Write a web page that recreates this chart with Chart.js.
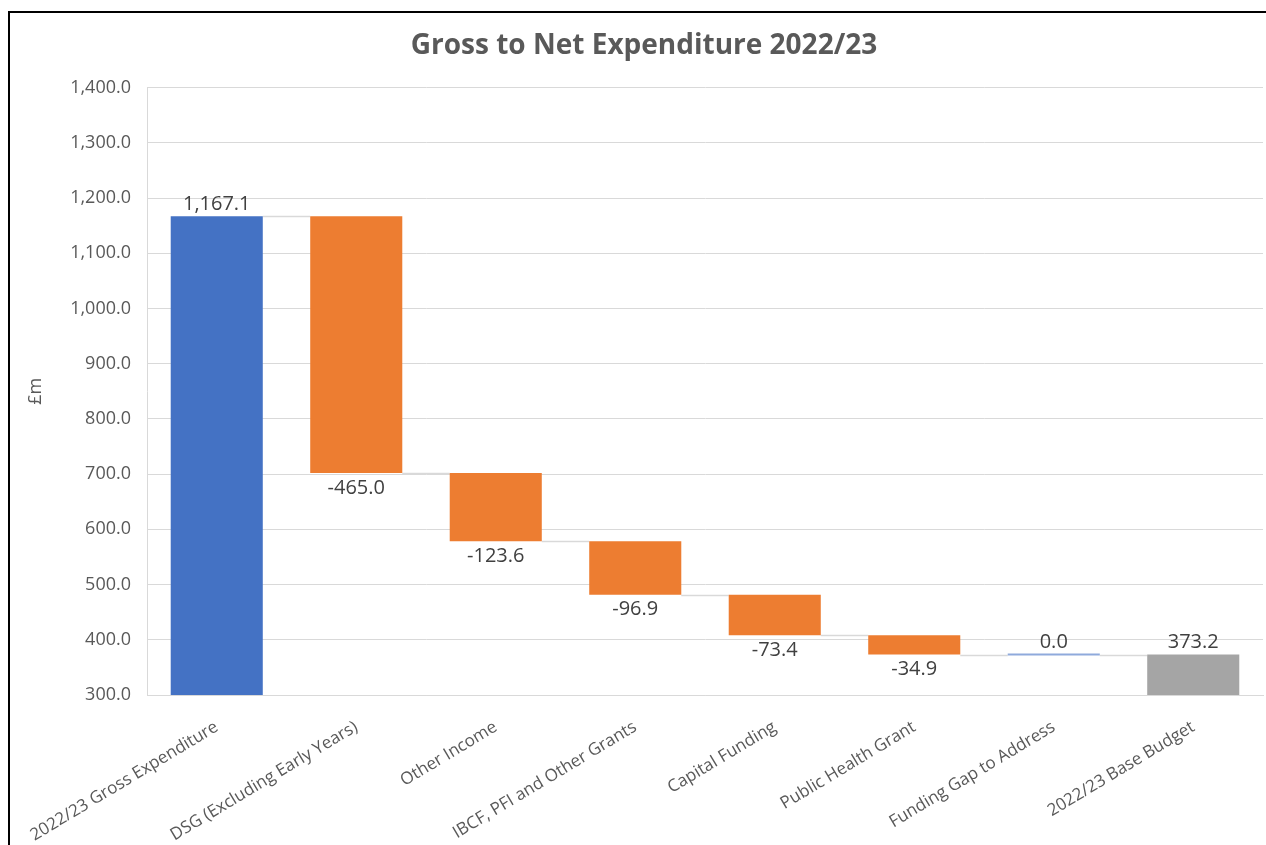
<!DOCTYPE html>
<html>
<head>
<meta charset="utf-8">
<title>Gross to Net Expenditure 2022/23</title>
<script src="https://cdn.jsdelivr.net/npm/chart.js@4.4.0/dist/chart.umd.min.js"></script>
<style>
  html, body { margin: 0; padding: 0; background: #fff; overflow: hidden; }
  #frame {
    position: absolute;
    left: 8px;
    top: 11px;
    width: 1266px;
    height: 900px;
    border-left: 2px solid #000;
    border-top: 2px solid #000;
    background: #fff;
  }
</style>
</head>
<body>
<div id="frame"><canvas id="chartGross"></canvas></div>
<script>
// Catégories et mouvements (en £m)
const categories = [
  "2022/23 Gross Expenditure",
  "DSG (Excluding Early Years)",
  "Other Income",
  "IBCF, PFI and Other Grants",
  "Capital Funding",
  "Public Health Grant",
  "Funding Gap to Address",
  "2022/23 Base Budget",
];
const changes = [1167.1, -465.0, -123.6, -96.9, -73.4, -34.9, 0.0, 373.2];
const isTotal = [true, false, false, false, false, false, false, true];
const yTicks = { min: 300, max: 1400, step: 100 };

// On calcule les barres flottantes (début / fin) de la cascade
let running = 0;
const ranges = [];
const levels = [];
changes.forEach((v, i) => {
  if (isTotal[i]) {
    ranges.push([0, v]);
    running = v;
  } else {
    ranges.push([running, running + v]);
    running += v;
  }
  levels.push(running);
});

const colors = changes.map((v, i) => {
  if (isTotal[i]) return i === 0 ? "#4472C4" : "#A5A5A5";
  return v < 0 ? "#ED7D31" : "#4472C4";
});

const fmt = (v) =>
  v.toLocaleString("en-GB", { minimumFractionDigits: 1, maximumFractionDigits: 1 });

// Lignes de liaison, barres nulles et étiquettes de valeurs
const waterfallExtras = {
  id: "waterfallExtras",
  beforeDatasetsDraw(chart) {
    const ctx = chart.ctx;
    const meta = chart.getDatasetMeta(0);
    const y = chart.scales.y;
    ctx.save();
    ctx.strokeStyle = "#d9d9d9";
    ctx.lineWidth = 1.5;
    for (let i = 0; i < meta.data.length - 1; i++) {
      const a = meta.data[i];
      const b = meta.data[i + 1];
      const py = Math.round(y.getPixelForValue(levels[i])) + 0.5;
      ctx.beginPath();
      ctx.moveTo(a.x + a.width / 2, py);
      ctx.lineTo(b.x - b.width / 2, py);
      ctx.stroke();
    }
    ctx.restore();
  },
  afterDatasetsDraw(chart) {
    const ctx = chart.ctx;
    const meta = chart.getDatasetMeta(0);
    const y = chart.scales.y;
    ctx.save();
    meta.data.forEach((bar, i) => {
      const [start, end] = ranges[i];
      if (start === end) {
        ctx.strokeStyle = "#8FAADC";
        ctx.lineWidth = 2;
        const py = y.getPixelForValue(end);
        ctx.beginPath();
        ctx.moveTo(bar.x - bar.width / 2, py);
        ctx.lineTo(bar.x + bar.width / 2, py);
        ctx.stroke();
      }
    });
    ctx.font = "20px 'Open Sans'";
    ctx.fillStyle = "#404040";
    ctx.textAlign = "center";
    meta.data.forEach((bar, i) => {
      const [start, end] = ranges[i];
      const v = changes[i];
      if (!isTotal[i] && v < 0) {
        ctx.textBaseline = "top";
        ctx.fillText(fmt(v), bar.x, y.getPixelForValue(Math.min(start, end)) + 5);
      } else {
        ctx.textBaseline = "bottom";
        ctx.fillText(fmt(v), bar.x, y.getPixelForValue(Math.max(start, end)) - 2);
      }
    });
    ctx.restore();
  },
};

new Chart(document.getElementById("chartGross"), {
  type: "bar",
  plugins: [waterfallExtras],
  data: {
    labels: categories,
    datasets: [
      {
        data: ranges,
        backgroundColor: colors,
        borderWidth: 0,
        barPercentage: 0.66,
        categoryPercentage: 1,
      },
    ],
  },
  options: {
    responsive: true,
    maintainAspectRatio: false,
    animation: false,
    layout: {
      padding: { left: 15, right: 13, top: 0, bottom: 68 },
    },
    plugins: {
      legend: { display: false },
      tooltip: { enabled: false },
      title: {
        display: true,
        text: "Gross to Net Expenditure 2022/23",
        color: "#595959",
        font: { family: "'Open Sans'", size: 28, weight: "bold" },
        padding: { top: 16, bottom: 25 },
      },
    },
    scales: {
      x: {
        grid: { display: false },
        border: { color: "#d9d9d9" },
        ticks: {
          color: "#595959",
          font: { family: "'Open Sans'", size: 17 },
          maxRotation: 31,
          minRotation: 31,
          autoSkip: false,
          padding: 14,
        },
        afterFit(scale) {
          // les étiquettes inclinées ne doivent pas repousser la zone du graphique
          scale.height = 150;
          scale.paddingLeft = 0;
          scale.paddingRight = 0;
        },
      },
      y: {
        min: yTicks.min,
        max: yTicks.max,
        grid: { color: "#d9d9d9", drawTicks: false },
        border: { color: "#d9d9d9" },
        title: {
          display: true,
          text: "£m",
          color: "#595959",
          font: { family: "'Open Sans'", size: 18 },
          padding: 0,
        },
        ticks: {
          stepSize: yTicks.step,
          color: "#595959",
          font: { family: "'Open Sans'", size: 18 },
          padding: 16,
          callback: (v) => fmt(v),
        },
        afterFit(scale) {
          scale.width = 122;
        },
      },
    },
  },
});
</script>
</body>
</html>
